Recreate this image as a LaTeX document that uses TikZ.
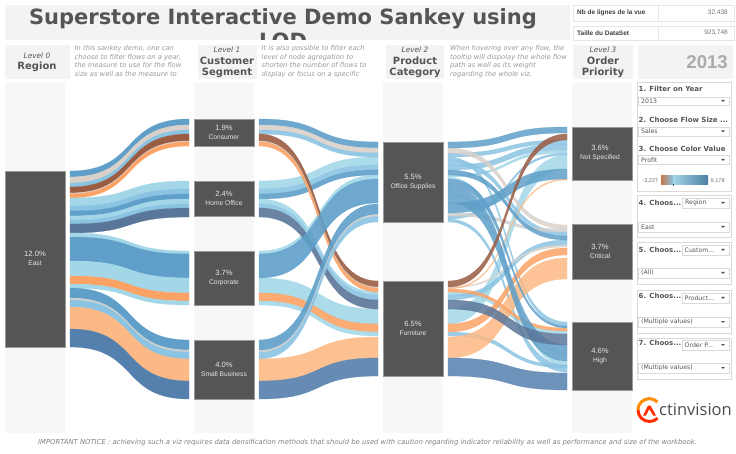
\documentclass[tikz,border=0pt]{standalone}
\usepackage{xcolor}
\usepackage{fontspec}
\usepackage{tikz}
\usetikzlibrary{calc}
\usetikzlibrary{positioning}
\setmainfont{DejaVu Sans}
\newfontfamily\arialfont{Liberation Sans}
\newfontfamily\logofont{Open Sans}
\definecolor{cblue}{HTML}{5F9FC9}
\definecolor{cbeige}{HTML}{D9D0C9}
\definecolor{csky}{HTML}{8BC3E2}
\definecolor{cpale}{HTML}{A3D7E8}
\definecolor{cbrown}{HTML}{9A5C42}
\definecolor{corange}{HTML}{FBA264}
\definecolor{clorange}{HTML}{FDB985}
\definecolor{cslate}{HTML}{5A7699}
\definecolor{cdark}{HTML}{5580AE}
\definecolor{cgray}{HTML}{CFCFCF}
\definecolor{nodegray}{HTML}{555555}
\definecolor{zonegray}{HTML}{F7F7F7}
\definecolor{headgray}{HTML}{F3F3F3}
\definecolor{framegray}{HTML}{DADAD2}
\definecolor{textgray}{HTML}{555555}
\definecolor{notegray}{HTML}{999999}
\tikzset{>=latex}
\tikzstyle{zone} = [fill = zonegray, draw = none]
\tikzstyle{head} = [fill = headgray, draw = none]
\tikzstyle{flownode} = [fill = nodegray, draw = gray!80, line width = .5pt]
\tikzstyle{flowtxt} = [text = white!90!black, inner sep = 0, align = center, font = \arialfont\fontsize{7.6}{10}\selectfont]
\tikzstyle{leveltxt} = [text = textgray, inner sep = 0, align = center, font = \fontsize{7.4}{10}\selectfont\itshape]
\tikzstyle{titletxt} = [text = textgray, inner sep = 0, align = center, font = \fontsize{10}{11}\selectfont\bfseries]
\tikzstyle{notetxt} = [text = notegray, inner sep = 0, anchor = north west, align = left, font = \fontsize{6.75}{8.45}\selectfont\itshape]
\tikzstyle{panel} = [draw = framegray, line width = 1pt, fill = white]
\tikzstyle{dropbox} = [draw = framegray, line width = .8pt, fill = white]
\tikzstyle{paneltxt} = [text = textgray, inner sep = 0, anchor = west, font = \fontsize{7}{8}\selectfont\bfseries]
\tikzstyle{droptxt} = [text = textgray, inner sep = 0, anchor = west, font = \fontsize{6.2}{8}\selectfont]
\tikzstyle{tabletxt} = [text = black!75, inner sep = 0, font = \arialfont\fontsize{6.5}{8}\selectfont]
\newcommand{\band}[7]{\filldraw [draw = #1, fill = #1, line width = .25pt] (#2, #4) .. controls ({#2 + .58 * (#3 - #2)}, #4) and ({#3 - .58 * (#3 - #2)}, #6) .. (#3, #6) -- (#3, #7) .. controls ({#3 - .58 * (#3 - #2)}, #7) and ({#2 + .58 * (#3 - #2)}, #5) .. (#2, #5) -- cycle;}
\newcommand{\dropmark}[2]{\fill [black!70] (#1 - 1.8, #2 - 1) -- (#1 + 1.8, #2 - 1) -- (#1, #2 + 1) -- cycle;}
\newcommand{\flowname}[2]{#1\\[-1pt]{\fontsize{6.7}{8}\selectfont #2}}
\begin{document}
\begin{tikzpicture}[x = 1pt, y = -1pt]
\useasboundingbox (0, 0) rectangle (736, 454);
\fill [headgray] (5, 5) rectangle (570, 40);
\begin{scope}
\clip (5, 5) rectangle (570, 40);
\node [text = textgray, inner sep = 0, align = center, anchor = north, font = \fontsize{21}{24.5}\selectfont\bfseries] (title) at (283, 8) {Superstore Interactive Demo Sankey using\\LOD};
\end{scope}
\draw [draw = black!10, line width = .8pt] (573, 5) rectangle (734, 21.5);
\draw [draw = black!10, line width = .8pt] (573, 26) rectangle (734, 40.5);
\draw [draw = black!10, line width = .8pt] (658, 5) -- (658, 21.5);
\draw [draw = black!10, line width = .8pt] (658, 26) -- (658, 40.5);
\node [tabletxt, anchor = west] (rowa) at (577, 13) {\bfseries Nb de lignes de la vue};
\node [tabletxt, anchor = east, text = black!55] (vala) at (728, 13) {32,438};
\node [tabletxt, anchor = west] (rowb) at (577, 33) {\bfseries Taille du DataSet};
\node [tabletxt, anchor = east, text = black!55] (valb) at (728, 33) {923,748};
\fill [head] (5, 45) rectangle (70, 79);
\fill [head] (198, 45) rectangle (257, 79);
\fill [head] (386, 45) rectangle (444, 79);
\fill [head] (573, 45) rectangle (633, 79);
\fill [head] (638, 45) rectangle (733, 79);
\node [leveltxt] (lev0) at (37, 56) {Level 0};
\node [titletxt] (reg) at (37, 66.5) {Region};
\node [leveltxt] (lev1) at (227, 50) {Level 1};
\node [titletxt, align = center] (seg) at (227, 67) {Customer\\Segment};
\node [leveltxt] (lev2) at (415, 50) {Level 2};
\node [titletxt] (cat) at (415, 67) {Product\\Category};
\node [leveltxt] (lev3) at (603, 50) {Level 3};
\node [titletxt] (pri) at (603, 67) {Order\\Priority};
\node [text = black!33, inner sep = 0, anchor = east, font = \arialfont\fontsize{18.6}{20}\selectfont\bfseries] (year) at (728, 62) {2013};
\node [notetxt] (noa) at (74.5, 45.5) {In this sankey demo, one can\\choose to filter flows on a year,\\the measure to use for the flow\\size as well as the measure to};
\node [notetxt] (nob) at (261.5, 45.5) {It is also possible to filter each\\level of node agregation to\\shorten the number of flows to\\display or focus on a specific};
\node [notetxt] (noc) at (450, 45.5) {When hovering over any flow, the\\tooltip will dispolay the whole flow\\path as well as its weight\\regarding the whole viz.};
\fill [zone] (5, 83) rectangle (65, 433);
\fill [zone] (194, 83) rectangle (254, 433);
\fill [zone] (383, 83) rectangle (443, 433);
\fill [zone] (572, 83) rectangle (632, 433);
\band{cblue}{70}{189}{171}{177}{119}{125}
\band{cbeige}{70}{189}{177}{183}{125}{130}
\band{csky}{70}{189}{183}{187}{130}{134}
\band{cbrown}{70}{189}{187}{193}{134}{141}
\band{cbeige}{70}{189}{193}{194}{141}{142}
\band{corange}{70}{189}{194}{198}{142}{146}
\band{cpale}{70}{189}{198}{206}{181}{189}
\band{csky}{70}{189}{206}{211}{189}{194}
\band{cblue}{70}{189}{211}{216}{194}{199}
\band{cpale}{70}{189}{216}{220}{199}{204}
\band{csky}{70}{189}{220}{224}{204}{208}
\band{cslate}{70}{189}{224}{233}{208}{217}
\band{cpale}{70}{189}{233}{237}{251}{254}
\band{cblue}{70}{189}{237}{261}{254}{278}
\band{cpale}{70}{189}{261}{276}{278}{293}
\band{corange}{70}{189}{276}{284}{293}{301}
\band{cpale}{70}{189}{284}{288}{301}{305}
\band{cblue}{70}{189}{288}{298}{340}{350}
\band{cgray}{70}{189}{298}{300}{350}{352}
\band{csky}{70}{189}{300}{307}{352}{359}
\band{clorange}{70}{189}{307}{329}{359}{381}
\band{cdark}{70}{189}{329}{347}{381}{399}
\begin{scope}[opacity = .9]
\band{cpale}{259}{378}{181}{189}{157}{165}
\band{csky}{259}{378}{189}{194}{165}{170}
\band{cblue}{259}{378}{194}{199}{170}{175}
\band{cpale}{259}{378}{199}{204}{292}{295}
\band{csky}{259}{378}{204}{208}{295}{300}
\band{cpale}{259}{378}{251}{254}{175}{179}
\band{cpale}{259}{378}{278}{293}{309}{324}
\band{corange}{259}{378}{293}{301}{324}{332}
\band{cpale}{259}{378}{301}{305}{332}{336}
\band{cblue}{259}{378}{119}{125}{142}{148}
\band{cbeige}{259}{378}{125}{130}{148}{153}
\band{csky}{259}{378}{130}{134}{153}{157}
\band{cbrown}{259}{378}{134}{141}{281}{287}
\band{cbeige}{259}{378}{141}{142}{287}{288}
\band{corange}{259}{378}{142}{146}{288}{292}
\band{cslate}{259}{378}{208}{217}{300}{309}
\band{cblue}{259}{378}{254}{278}{179}{203}
\band{csky}{259}{378}{352}{359}{216}{222}
\band{cgray}{259}{378}{350}{352}{214}{216}
\band{cblue}{259}{378}{340}{350}{204}{214}
\band{clorange}{259}{378}{359}{381}{337}{358}
\band{cdark}{259}{378}{381}{399}{358}{376}
\end{scope}
\begin{scope}[opacity = .85]
\band{cpale}{448}{567}{309}{324}{155}{169}
\band{cpale}{448}{567}{175}{177}{150}{153}
\band{cpale}{448}{567}{177}{179}{361}{365}
\band{cpale}{448}{567}{292}{295}{331}{334}
\band{csky}{448}{567}{153}{157}{140}{144}
\band{csky}{448}{567}{157}{160}{322}{326}
\band{csky}{448}{567}{160}{165}{232}{236}
\band{csky}{448}{567}{165}{170}{144}{150}
\band{csky}{448}{567}{216}{219}{153}{155}
\band{csky}{448}{567}{219}{222}{365}{372}
\band{csky}{448}{567}{295}{300}{240}{245}
\band{csky}{448}{567}{332}{336}{365}{368}
\band{cbeige}{448}{567}{148}{153}{225}{229}
\band{cgray}{448}{567}{213}{216}{229}{232}
\band{cbeige}{448}{567}{287}{288}{245}{247}
\band{clorange}{448}{567}{288}{289}{179}{180}
\band{clorange}{448}{567}{337}{358}{258}{279}
\band{corange}{448}{567}{289}{292}{328}{331}
\band{corange}{448}{567}{324}{332}{248}{255}
\band{cblue}{448}{567}{142}{148}{127}{133}
\band{cblue}{448}{567}{170}{175}{236}{240}
\band{cblue}{448}{567}{179}{186}{326}{328}
\band{cblue}{448}{567}{186}{194}{345}{353}
\band{cblue}{448}{567}{194}{203}{353}{361}
\band{cblue}{448}{567}{203}{213}{169}{179}
\band{cslate}{448}{567}{300}{309}{334}{345}
\band{cdark}{448}{567}{358}{376}{373}{390}
\band{cbrown}{448}{567}{281}{287}{134}{140}
\end{scope}
\draw [flownode] (5, 171) rectangle (65, 347);
\draw [flownode] (194, 119) rectangle (254, 146);
\draw [flownode] (194, 181) rectangle (254, 216.5);
\draw [flownode] (194, 251) rectangle (254, 305);
\draw [flownode] (194, 340) rectangle (254, 399);
\draw [flownode] (383, 142) rectangle (443, 222);
\draw [flownode] (383, 281) rectangle (443, 376);
\draw [flownode] (572, 127) rectangle (632, 180);
\draw [flownode] (572, 224) rectangle (632, 279);
\draw [flownode] (572, 322) rectangle (632, 390);
\node [flowtxt] (east) at (35, 258.5) {\flowname{12.0\%}{East}};
\node [flowtxt] (cons) at (224, 132) {\flowname{1.9\%}{Consumer}};
\node [flowtxt] (home) at (224, 198.5) {\flowname{2.4\%}{Home Office}};
\node [flowtxt] (corp) at (224, 278) {\flowname{3.7\%}{Corporate}};
\node [flowtxt] (smal) at (224, 369) {\flowname{4.0\%}{Small Business}};
\node [flowtxt] (offi) at (413, 182) {\flowname{5.5\%}{Office Supplies}};
\node [flowtxt] (furn) at (413, 328) {\flowname{6.5\%}{Furniture}};
\node [flowtxt] (nots) at (600, 153) {\flowname{3.6\%}{Not Specified}};
\node [flowtxt] (crit) at (600, 251) {\flowname{3.7\%}{Critical}};
\node [flowtxt] (high) at (600, 356) {\flowname{4.6\%}{High}};
\draw [panel] (637, 83) rectangle (731, 192);
\draw [panel] (637, 196) rectangle (731, 238);
\draw [panel] (637, 243) rectangle (731, 285);
\draw [panel] (637, 291) rectangle (731, 333);
\draw [panel] (637, 338) rectangle (731, 379);
\node [paneltxt] (fa) at (638.5, 89) {1. Filter on Year};
\draw [dropbox] (638.5, 97) rectangle (729.5, 105);
\node [droptxt] (da) at (641, 101) {2013};
\dropmark{723}{101}
\node [paneltxt] (fb) at (638.5, 119.5) {2. Choose Flow Size ...};
\draw [dropbox] (638.5, 127) rectangle (729.5, 136);
\node [droptxt] (db) at (641, 131.5) {Sales};
\dropmark{723}{131.5}
\node [paneltxt] (fc) at (638.5, 148.5) {3. Choose Color Value};
\draw [dropbox] (638.5, 155) rectangle (729.5, 164);
\node [droptxt] (dc) at (641, 160) {Profit};
\dropmark{723}{160}
\shade [left color = cbrown!60!corange, right color = csky] (661, 176) rectangle (673, 185);
\shade [left color = cpale, right color = cblue!80!black] (673, 176) rectangle (708, 185);
\fill [black!70] (673, 184) rectangle (674, 186);
\node [droptxt, font = \arialfont\fontsize{5.6}{7}\selectfont, text = black!55, anchor = east] (cmin) at (658.5, 181) {-3,227};
\node [droptxt, font = \arialfont\fontsize{5.6}{7}\selectfont, text = black!55] (cmax) at (710.5, 181) {9,178};
\node [paneltxt] (fd) at (638.5, 202.5) {4. Choos...};
\draw [dropbox] (682, 198) rectangle (729.5, 208);
\node [droptxt] (dd) at (685, 203) {Region};
\dropmark{723}{203}
\draw [dropbox] (638.5, 222) rectangle (729.5, 232);
\node [droptxt] (de) at (641, 227) {East};
\dropmark{723}{227}
\node [paneltxt] (fe) at (638.5, 249.5) {5. Choos...};
\draw [dropbox] (682, 245) rectangle (729.5, 255);
\node [droptxt] (df) at (684.5, 250) {Custom...};
\dropmark{723}{250}
\draw [dropbox] (638.5, 268) rectangle (729.5, 278);
\node [droptxt] (dg) at (641, 273) {(All)};
\dropmark{723}{273}
\node [paneltxt] (ff) at (638.5, 296) {6. Choos...};
\draw [dropbox] (682, 293) rectangle (729.5, 303);
\node [droptxt] (dh) at (684.5, 298) {Product...};
\dropmark{723}{298}
\draw [dropbox] (638.5, 317) rectangle (729.5, 327);
\node [droptxt] (di) at (641, 322) {(Multiple values)};
\dropmark{723}{322}
\node [paneltxt] (fg) at (638.5, 343) {7. Choos...};
\draw [dropbox] (682, 340) rectangle (729.5, 350);
\node [droptxt] (dj) at (684.5, 345) {Order P...};
\dropmark{723}{345}
\draw [dropbox] (638.5, 363) rectangle (729.5, 373);
\node [droptxt] (dk) at (641, 368) {(Multiple values)};
\dropmark{723}{368}
\draw [draw = orange!90!yellow, line width = 3pt] (657.5, 402) arc (315 : 180 : 11.5);
\draw [draw = red!65!orange, line width = 3pt] (638, 410) arc (180 : 45 : 11.5);
\fill [red!65!orange] (643, 415.5) -- (648, 405.5) -- (650.5, 405.5) -- (656, 415.5) -- (653, 415.5) -- (649.3, 409) -- (646, 415.5) -- cycle;
\node [text = black!70, inner sep = 0, anchor = base west, font = \logofont\fontsize{16.5}{18}\selectfont] (logo) at (659, 415) {ctinvision};
\node [text = black!50, inner sep = 0, font = \fontsize{6.85}{8}\selectfont\itshape] (notice) at (367.5, 443) {IMPORTANT NOTICE : achieving such a viz requires data densification methods that should be used with caution regarding indicator reliability as well as performance and size of the workbook.};
\end{tikzpicture}
\end{document}
